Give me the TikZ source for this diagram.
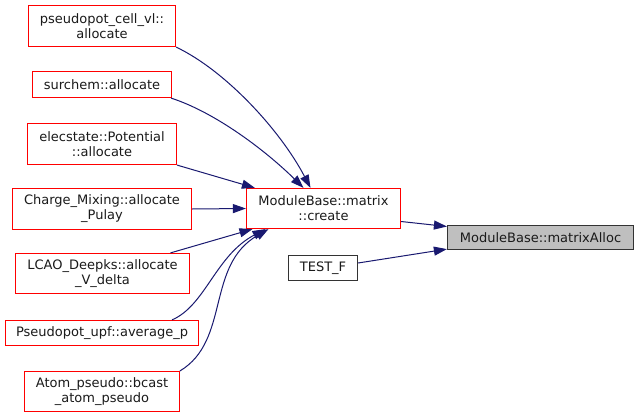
\documentclass[tikz,border=0pt]{standalone}
\usepackage{fontspec}
\setmainfont{DejaVu Sans}
\usetikzlibrary{arrows.meta}
\definecolor{edgeblue}{HTML}{191970}
\definecolor{nodegray}{HTML}{BFBFBF}
\definecolor{nodered}{HTML}{FF0000}
\definecolor{textblk}{HTML}{1A1A1A}
\tikzset{
  box/.style={line width=1.2pt, inner sep=0pt, align=center,
    font=\fontsize{13}{15}\selectfont, text=textblk},
  fn/.style={box, draw=nodered, fill=white},
  cur/.style={box, draw=black!80, fill=nodegray},
  plain/.style={box, draw=black!80, fill=white},
  edge/.style={draw=edgeblue, line width=1pt, -{Triangle[length=13pt,width=9pt]}, fill=none},
}
\begin{document}
\begin{tikzpicture}[x=1pt,y=-1pt]
\fill[white] (0,0) rectangle (639,417);
\useasboundingbox (0,0) rectangle (639,417);
\begin{scope}[shift={(0.5,0.5)}]
\node[fn, minimum width=147pt, minimum height=41pt] (p1) at (101.5,25.5) {pseudopot\_cell\_vl::\\allocate};
\node[fn, minimum width=139pt, minimum height=26pt] (p2) at (101.5,84) {surchem::allocate};
\node[fn, minimum width=149pt, minimum height=41pt] (p3) at (101.5,143.5) {elecstate::Potential\\::allocate};
\node[fn, minimum width=179pt, minimum height=41pt] (p4) at (101.5,208.5) {Charge\_Mixing::allocate\\\_Pulay};
\node[fn, minimum width=174pt, minimum height=40pt] (p5) at (102,273) {LCAO\_Deepks::allocate\\\_V\_delta};
\node[fn, minimum width=193pt, minimum height=25pt] (p6) at (101.5,332.5) {Pseudopot\_upf::average\_p};
\node[fn, minimum width=155pt, minimum height=40pt] (p7) at (101.5,391) {Atom\_pseudo::bcast\\\_atom\_pseudo};
\node[fn, minimum width=154pt, minimum height=40pt] (cr) at (323,208) {ModuleBase::matrix\\::create};
\node[cur, minimum width=186pt, minimum height=24pt] (al) at (540,237) {ModuleBase::matrixAlloc};
\node[plain, minimum width=69pt, minimum height=25pt] (tf) at (322.5,267.5) {TEST\_F};

\draw[edge] (p1.south east) .. controls (225,70) and (280,130) .. ([xshift=-13pt]cr.north);
\draw[edge] ([xshift=-1pt]p2.south east) .. controls (215,112) and (265,150) .. ([xshift=-20pt]cr.north);
\draw[edge] (p3.south east) -- ([xshift=9pt]cr.north west);
\draw[edge] (p4.east) -- (cr.west);
\draw[edge] ([xshift=68pt]p5.north) -- ([xshift=-71pt]cr.south);
\draw[edge] ([xshift=70pt]p6.north) .. controls (205,305) and (215,255) .. ([xshift=-58pt]cr.south);
\draw[edge] ([xshift=78pt]p7.north) .. controls (230,340) and (205,265) .. ([xshift=-55pt]cr.south);
\draw[edge] ([yshift=-13pt]cr.east) -- ([yshift=11pt]al.west);
\draw[edge] ([yshift=5pt]tf.east) -- ([yshift=1pt]al.south west);
\end{scope}
\end{tikzpicture}
\end{document}
